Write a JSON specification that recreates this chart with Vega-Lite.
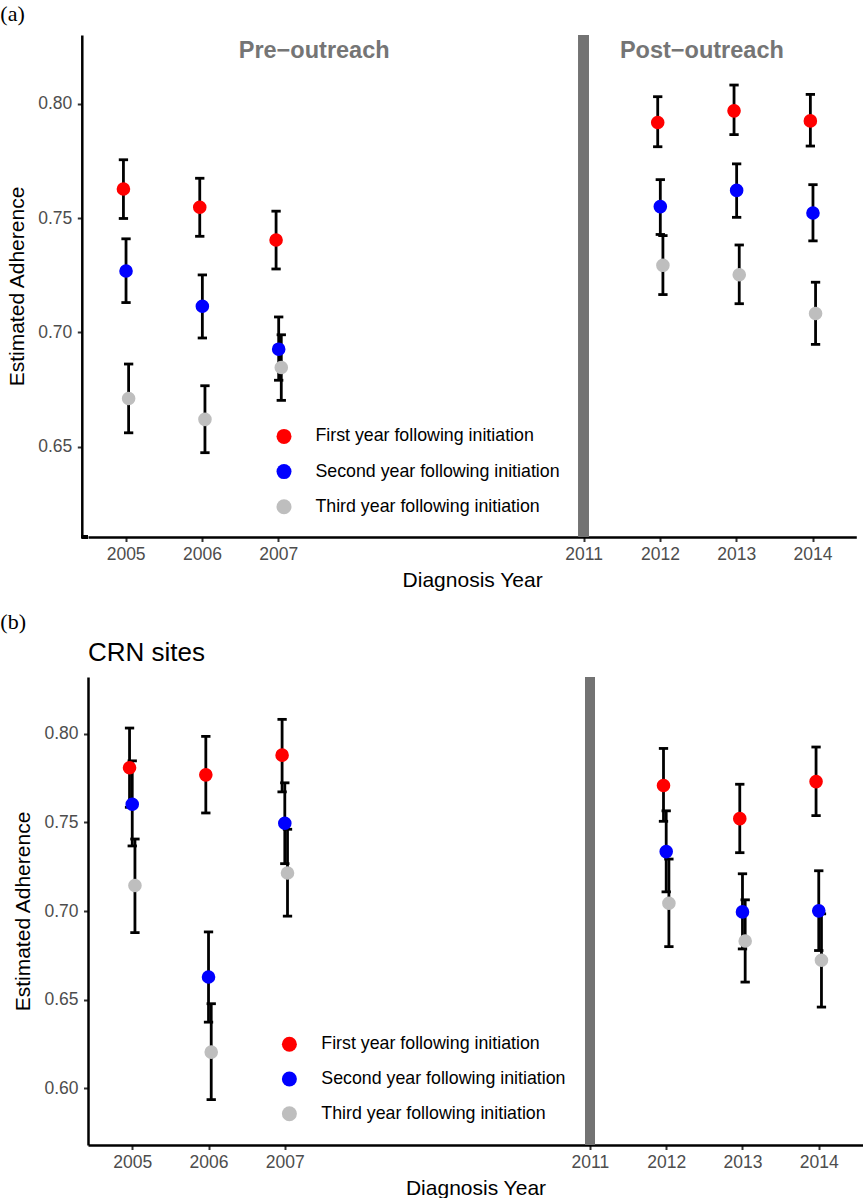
{
  "$schema": "https://vega.github.io/schema/vega-lite/v6.json",
  "padding": {"top": 3, "left": 0, "right": 0, "bottom": 0},
  "background": "white",
  "spacing": 20,
  "resolve": {"scale": {"color": "independent"}, "legend": {"color": "independent"}},
  "config": {
    "view": {"stroke": null},
    "font": "Liberation Sans",
    "axis": {"domainColor": "#000000", "domainWidth": 2.5, "tickColor": "#333333", "tickWidth": 2, "tickSize": 4.5, "labelColor": "#4D4D4D", "labelFont": "Liberation Sans", "labelFontSize": 17.5, "titleFont": "Liberation Sans", "titleFontSize": 21, "titleFontWeight": "normal", "titleColor": "#000000", "grid": false, "labelFlush": false, "labelOverlap": false},
    "axisX": {"labelPadding": 4, "titlePadding": 6, "labelAngle": 0},
    "axisY": {"labelPadding": 5.5, "titlePadding": 10},
    "legend": {"padding": 0, "symbolType": "circle", "symbolSize": 225, "symbolStrokeWidth": 0, "labelFont": "Liberation Sans", "labelFontSize": 17.8, "labelColor": "#000000", "labelLimit": 400}
  },
  "datasets": {
    "a": [
      {"year": 2005, "series": "First year following initiation", "est": 0.7627, "lo": 0.7498, "hi": 0.7755},
      {"year": 2005, "series": "Second year following initiation", "est": 0.7268, "lo": 0.7130, "hi": 0.7409},
      {"year": 2005, "series": "Third year following initiation", "est": 0.6710, "lo": 0.6560, "hi": 0.6861},
      {"year": 2006, "series": "First year following initiation", "est": 0.7547, "lo": 0.7420, "hi": 0.7674},
      {"year": 2006, "series": "Second year following initiation", "est": 0.7114, "lo": 0.6975, "hi": 0.7251},
      {"year": 2006, "series": "Third year following initiation", "est": 0.6619, "lo": 0.6473, "hi": 0.6766},
      {"year": 2007, "series": "First year following initiation", "est": 0.7404, "lo": 0.7277, "hi": 0.7530},
      {"year": 2007, "series": "Second year following initiation", "est": 0.6926, "lo": 0.6790, "hi": 0.7067},
      {"year": 2007, "series": "Third year following initiation", "est": 0.6846, "lo": 0.6702, "hi": 0.6989},
      {"year": 2012, "series": "First year following initiation", "est": 0.7918, "lo": 0.7812, "hi": 0.8031},
      {"year": 2012, "series": "Second year following initiation", "est": 0.7550, "lo": 0.7428, "hi": 0.7668},
      {"year": 2012, "series": "Third year following initiation", "est": 0.7293, "lo": 0.7165, "hi": 0.7423},
      {"year": 2013, "series": "First year following initiation", "est": 0.7969, "lo": 0.7865, "hi": 0.8082},
      {"year": 2013, "series": "Second year following initiation", "est": 0.7621, "lo": 0.7503, "hi": 0.7737},
      {"year": 2013, "series": "Third year following initiation", "est": 0.7252, "lo": 0.7125, "hi": 0.7382},
      {"year": 2014, "series": "First year following initiation", "est": 0.7925, "lo": 0.7815, "hi": 0.8041},
      {"year": 2014, "series": "Second year following initiation", "est": 0.7522, "lo": 0.7400, "hi": 0.7646},
      {"year": 2014, "series": "Third year following initiation", "est": 0.7082, "lo": 0.6947, "hi": 0.7219}
    ],
    "b": [
      {"year": 2005, "series": "First year following initiation", "est": 0.7808, "lo": 0.7585, "hi": 0.8032},
      {"year": 2005, "series": "Second year following initiation", "est": 0.7602, "lo": 0.7367, "hi": 0.7847},
      {"year": 2005, "series": "Third year following initiation", "est": 0.7144, "lo": 0.6878, "hi": 0.7406},
      {"year": 2006, "series": "First year following initiation", "est": 0.7768, "lo": 0.7553, "hi": 0.7985},
      {"year": 2006, "series": "Second year following initiation", "est": 0.6628, "lo": 0.6373, "hi": 0.6882},
      {"year": 2006, "series": "Third year following initiation", "est": 0.6204, "lo": 0.5936, "hi": 0.6477},
      {"year": 2007, "series": "First year following initiation", "est": 0.7879, "lo": 0.7672, "hi": 0.8081},
      {"year": 2007, "series": "Second year following initiation", "est": 0.7495, "lo": 0.7267, "hi": 0.7723},
      {"year": 2007, "series": "Third year following initiation", "est": 0.7214, "lo": 0.6971, "hi": 0.7461},
      {"year": 2012, "series": "First year following initiation", "est": 0.7708, "lo": 0.7506, "hi": 0.7917},
      {"year": 2012, "series": "Second year following initiation", "est": 0.7335, "lo": 0.7108, "hi": 0.7565},
      {"year": 2012, "series": "Third year following initiation", "est": 0.7044, "lo": 0.6799, "hi": 0.7293},
      {"year": 2013, "series": "First year following initiation", "est": 0.7521, "lo": 0.7329, "hi": 0.7715},
      {"year": 2013, "series": "Second year following initiation", "est": 0.6995, "lo": 0.6786, "hi": 0.7210},
      {"year": 2013, "series": "Third year following initiation", "est": 0.6831, "lo": 0.6599, "hi": 0.7063},
      {"year": 2014, "series": "First year following initiation", "est": 0.7730, "lo": 0.7538, "hi": 0.7925},
      {"year": 2014, "series": "Second year following initiation", "est": 0.7001, "lo": 0.6777, "hi": 0.7227},
      {"year": 2014, "series": "Third year following initiation", "est": 0.6722, "lo": 0.6458, "hi": 0.6984}
    ],
    "ann_a": [
      {"year": 2007.47, "est": 0.8232, "label": "Pre−outreach"},
      {"year": 2012.55, "est": 0.8232, "label": "Post−outreach"}
    ],
    "ann_b": [
      {"year": 2004.42, "est": 0.8412, "label": "CRN sites"}
    ]
  },
  "vconcat": [
    {
      "width": 768.3,
      "height": 502,
      "title": {"text": "(a)", "anchor": "start", "frame": "group", "dx": -87.7, "offset": 4, "font": "Liberation Serif", "fontSize": 22, "fontWeight": "normal", "color": "#000000"},
      "data": {"name": "a"},
      "layer": [
        {
          "mark": {"type": "rule", "color": "#737373", "strokeWidth": 9.5},
          "encoding": {
            "x": {"datum": 2011, "type": "quantitative", "scale": {"domain": [2004.507, 2014.573], "nice": false, "zero": false}, "title": "Diagnosis Year", "axis": {"values": [2005, 2006, 2007, 2011, 2012, 2013, 2014], "format": "d"}}
          }
        },
        {
          "mark": {"type": "rule", "color": "#000000", "strokeWidth": 2.5},
          "encoding": {
            "x": {"datum": 2004.425, "type": "quantitative", "scale": {"domain": [2004.507, 2014.573], "nice": false, "zero": false}, "title": "Diagnosis Year", "axis": {"values": [2005, 2006, 2007, 2011, 2012, 2013, 2014], "format": "d"}},
            "x2": {"datum": 2004.507},
            "y": {"datum": 0.6104, "type": "quantitative", "scale": {"domain": [0.6104, 0.8301], "nice": false, "zero": false}, "title": "Estimated Adherence", "axis": {"values": [0.65, 0.7, 0.75, 0.8], "format": ".2f", "offset": 6.2}}
          }
        },
        {
          "mark": {"type": "rule", "color": "#000000", "strokeWidth": 2.8, "xOffset": {"expr": "datum.series === 'First year following initiation' ? -2.2 : (datum.series === 'Third year following initiation' ? 3 : 0.4)"}},
          "encoding": {
            "x": {"field": "year", "type": "quantitative", "scale": {"domain": [2004.507, 2014.573], "nice": false, "zero": false}, "title": "Diagnosis Year", "axis": {"values": [2005, 2006, 2007, 2011, 2012, 2013, 2014], "format": "d"}},
            "y": {"field": "lo", "type": "quantitative", "scale": {"domain": [0.6104, 0.8301], "nice": false, "zero": false}, "title": "Estimated Adherence", "axis": {"values": [0.65, 0.7, 0.75, 0.8], "format": ".2f", "offset": 6.2}},
            "y2": {"field": "hi"}
          }
        },
        {
          "mark": {"type": "tick", "orient": "horizontal", "color": "#000000", "opacity": 1, "size": 9.3, "thickness": 2.8, "xOffset": {"expr": "datum.series === 'First year following initiation' ? -2.2 : (datum.series === 'Third year following initiation' ? 3 : 0.4)"}},
          "encoding": {
            "x": {"field": "year", "type": "quantitative", "scale": {"domain": [2004.507, 2014.573], "nice": false, "zero": false}, "title": "Diagnosis Year", "axis": {"values": [2005, 2006, 2007, 2011, 2012, 2013, 2014], "format": "d"}},
            "y": {"field": "lo", "type": "quantitative", "scale": {"domain": [0.6104, 0.8301], "nice": false, "zero": false}, "title": "Estimated Adherence", "axis": {"values": [0.65, 0.7, 0.75, 0.8], "format": ".2f", "offset": 6.2}}
          }
        },
        {
          "mark": {"type": "tick", "orient": "horizontal", "color": "#000000", "opacity": 1, "size": 9.3, "thickness": 2.8, "xOffset": {"expr": "datum.series === 'First year following initiation' ? -2.2 : (datum.series === 'Third year following initiation' ? 3 : 0.4)"}},
          "encoding": {
            "x": {"field": "year", "type": "quantitative", "scale": {"domain": [2004.507, 2014.573], "nice": false, "zero": false}, "title": "Diagnosis Year", "axis": {"values": [2005, 2006, 2007, 2011, 2012, 2013, 2014], "format": "d"}},
            "y": {"field": "hi", "type": "quantitative", "scale": {"domain": [0.6104, 0.8301], "nice": false, "zero": false}, "title": "Estimated Adherence", "axis": {"values": [0.65, 0.7, 0.75, 0.8], "format": ".2f", "offset": 6.2}}
          }
        },
        {
          "mark": {"type": "point", "filled": true, "opacity": 1, "size": 185, "xOffset": {"expr": "datum.series === 'First year following initiation' ? -2.2 : (datum.series === 'Third year following initiation' ? 3 : 0.4)"}},
          "encoding": {
            "x": {"field": "year", "type": "quantitative", "scale": {"domain": [2004.507, 2014.573], "nice": false, "zero": false}, "title": "Diagnosis Year", "axis": {"values": [2005, 2006, 2007, 2011, 2012, 2013, 2014], "format": "d"}},
            "y": {"field": "est", "type": "quantitative", "scale": {"domain": [0.6104, 0.8301], "nice": false, "zero": false}, "title": "Estimated Adherence", "axis": {"values": [0.65, 0.7, 0.75, 0.8], "format": ".2f", "offset": 6.2}},
            "color": {"field": "series", "type": "nominal", "scale": {"domain": ["First year following initiation", "Second year following initiation", "Third year following initiation"], "range": ["#FF0000", "#0000FF", "#BEBEBE"]}, "legend": {"orient": "none", "legendX": 187.1, "legendY": 392.5, "title": null, "rowPadding": 16.2, "labelOffset": 22.5}}
          }
        },
        {
          "data": {"name": "ann_a"},
          "mark": {"type": "text", "font": "Liberation Sans", "fontSize": 23.5, "fontWeight": "bold", "color": "#757575", "align": "center", "baseline": "middle"},
          "encoding": {
            "x": {"field": "year", "type": "quantitative", "scale": {"domain": [2004.507, 2014.573], "nice": false, "zero": false}, "title": "Diagnosis Year", "axis": {"values": [2005, 2006, 2007, 2011, 2012, 2013, 2014], "format": "d"}},
            "y": {"field": "est", "type": "quantitative", "scale": {"domain": [0.6104, 0.8301], "nice": false, "zero": false}, "title": "Estimated Adherence", "axis": {"values": [0.65, 0.7, 0.75, 0.8], "format": ".2f", "offset": 6.2}},
            "text": {"field": "label"}
          }
        }
      ]
    },
    {
      "width": 775,
      "height": 468,
      "title": {"text": "(b)", "anchor": "start", "frame": "group", "dx": -87.7, "offset": 6, "font": "Liberation Serif", "fontSize": 22, "fontWeight": "normal", "color": "#000000"},
      "data": {"name": "b"},
      "layer": [
        {
          "mark": {"type": "rule", "color": "#737373", "strokeWidth": 9.5},
          "encoding": {
            "x": {"datum": 2011, "type": "quantitative", "scale": {"domain": [2004.42, 2014.58], "nice": false, "zero": false}, "title": "Diagnosis Year", "axis": {"values": [2005, 2006, 2007, 2011, 2012, 2013, 2014], "format": "d"}}
          }
        },
        {
          "mark": {"type": "rule", "color": "#000000", "strokeWidth": 2.8, "xOffset": {"expr": "datum.series === 'First year following initiation' ? -2.7 : (datum.series === 'Third year following initiation' ? 2.7 : 0)"}},
          "encoding": {
            "x": {"field": "year", "type": "quantitative", "scale": {"domain": [2004.42, 2014.58], "nice": false, "zero": false}, "title": "Diagnosis Year", "axis": {"values": [2005, 2006, 2007, 2011, 2012, 2013, 2014], "format": "d"}},
            "y": {"field": "lo", "type": "quantitative", "scale": {"domain": [0.568, 0.832], "nice": false, "zero": false}, "title": "Estimated Adherence", "axis": {"values": [0.6, 0.65, 0.7, 0.75, 0.8], "format": ".2f"}},
            "y2": {"field": "hi"}
          }
        },
        {
          "mark": {"type": "tick", "orient": "horizontal", "color": "#000000", "opacity": 1, "size": 9.3, "thickness": 2.8, "xOffset": {"expr": "datum.series === 'First year following initiation' ? -2.7 : (datum.series === 'Third year following initiation' ? 2.7 : 0)"}},
          "encoding": {
            "x": {"field": "year", "type": "quantitative", "scale": {"domain": [2004.42, 2014.58], "nice": false, "zero": false}, "title": "Diagnosis Year", "axis": {"values": [2005, 2006, 2007, 2011, 2012, 2013, 2014], "format": "d"}},
            "y": {"field": "lo", "type": "quantitative", "scale": {"domain": [0.568, 0.832], "nice": false, "zero": false}, "title": "Estimated Adherence", "axis": {"values": [0.6, 0.65, 0.7, 0.75, 0.8], "format": ".2f"}}
          }
        },
        {
          "mark": {"type": "tick", "orient": "horizontal", "color": "#000000", "opacity": 1, "size": 9.3, "thickness": 2.8, "xOffset": {"expr": "datum.series === 'First year following initiation' ? -2.7 : (datum.series === 'Third year following initiation' ? 2.7 : 0)"}},
          "encoding": {
            "x": {"field": "year", "type": "quantitative", "scale": {"domain": [2004.42, 2014.58], "nice": false, "zero": false}, "title": "Diagnosis Year", "axis": {"values": [2005, 2006, 2007, 2011, 2012, 2013, 2014], "format": "d"}},
            "y": {"field": "hi", "type": "quantitative", "scale": {"domain": [0.568, 0.832], "nice": false, "zero": false}, "title": "Estimated Adherence", "axis": {"values": [0.6, 0.65, 0.7, 0.75, 0.8], "format": ".2f"}}
          }
        },
        {
          "mark": {"type": "point", "filled": true, "opacity": 1, "size": 185, "xOffset": {"expr": "datum.series === 'First year following initiation' ? -2.7 : (datum.series === 'Third year following initiation' ? 2.7 : 0)"}},
          "encoding": {
            "x": {"field": "year", "type": "quantitative", "scale": {"domain": [2004.42, 2014.58], "nice": false, "zero": false}, "title": "Diagnosis Year", "axis": {"values": [2005, 2006, 2007, 2011, 2012, 2013, 2014], "format": "d"}},
            "y": {"field": "est", "type": "quantitative", "scale": {"domain": [0.568, 0.832], "nice": false, "zero": false}, "title": "Estimated Adherence", "axis": {"values": [0.6, 0.65, 0.7, 0.75, 0.8], "format": ".2f"}},
            "color": {"field": "series", "type": "nominal", "scale": {"domain": ["First year following initiation", "Second year following initiation", "Third year following initiation"], "range": ["#FF0000", "#0000FF", "#BEBEBE"]}, "legend": {"orient": "none", "legendX": 192.5, "legendY": 358.3, "title": null, "rowPadding": 15.8, "labelOffset": 23}}
          }
        },
        {
          "data": {"name": "ann_b"},
          "mark": {"type": "text", "font": "Liberation Sans", "fontSize": 26, "fontWeight": "normal", "color": "#000000", "align": "left", "baseline": "alphabetic"},
          "encoding": {
            "x": {"field": "year", "type": "quantitative", "scale": {"domain": [2004.42, 2014.58], "nice": false, "zero": false}, "title": "Diagnosis Year", "axis": {"values": [2005, 2006, 2007, 2011, 2012, 2013, 2014], "format": "d"}},
            "y": {"field": "est", "type": "quantitative", "scale": {"domain": [0.568, 0.832], "nice": false, "zero": false}, "title": "Estimated Adherence", "axis": {"values": [0.6, 0.65, 0.7, 0.75, 0.8], "format": ".2f"}},
            "text": {"field": "label"}
          }
        }
      ]
    }
  ]
}
